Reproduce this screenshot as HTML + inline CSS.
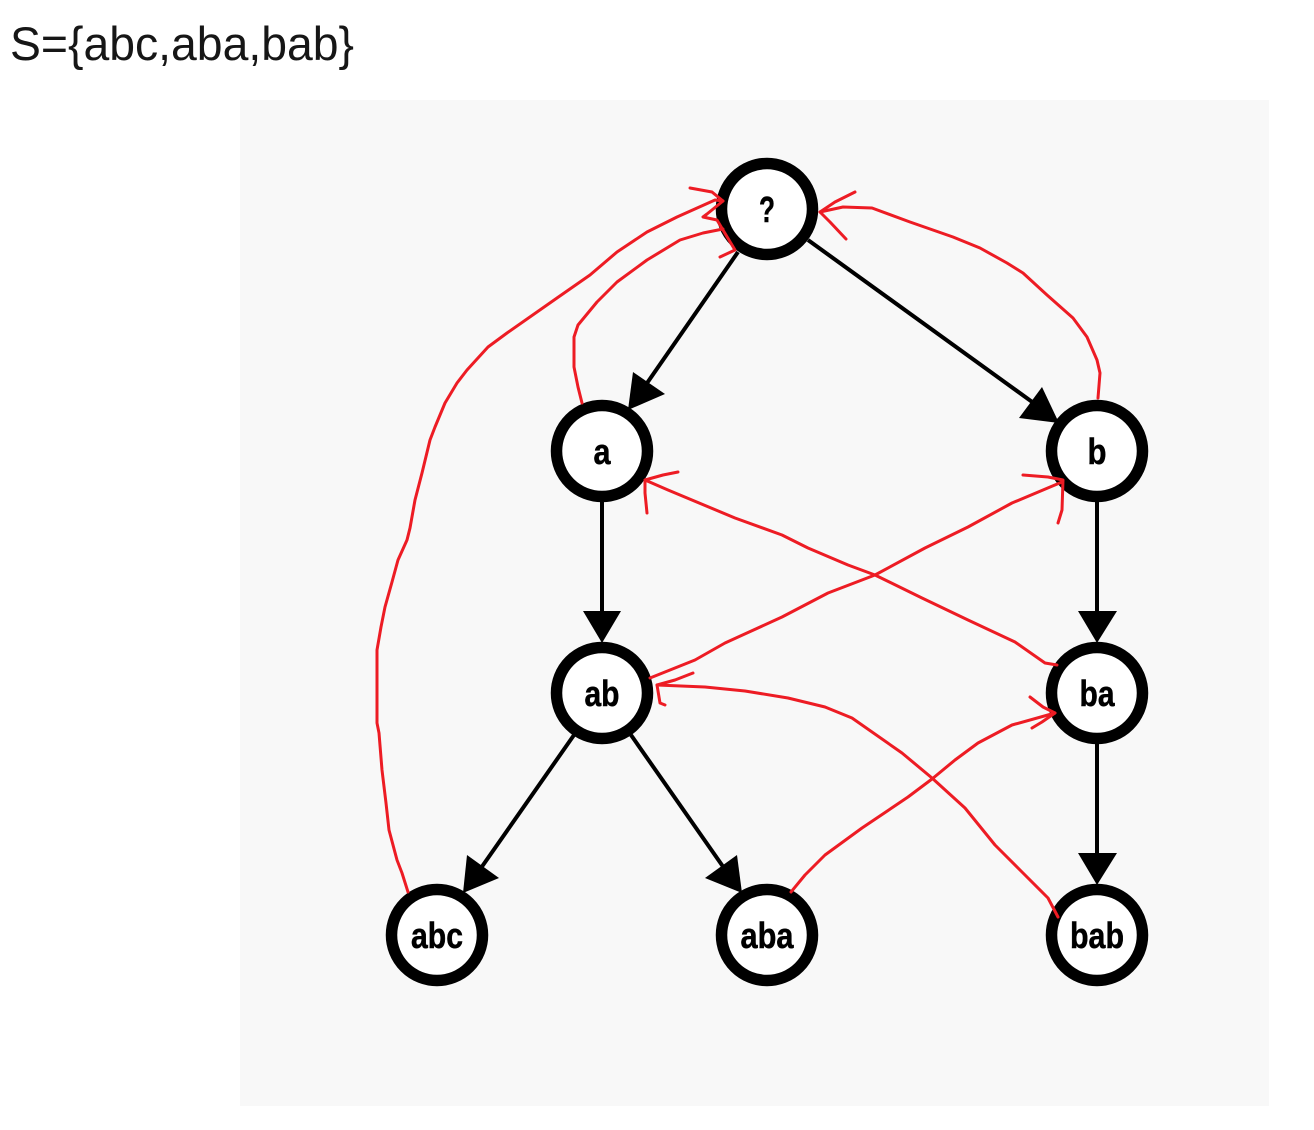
<!DOCTYPE html>
<html>
<head>
<meta charset="utf-8">
<style>
html,body{margin:0;padding:0;background:#fff;width:1314px;height:1130px;overflow:hidden}
svg{display:block}
.n{fill:#fff;stroke:#000;stroke-width:11.5}
.l{font-family:"Liberation Sans",sans-serif;font-weight:bold;font-size:36px;text-anchor:middle;fill:#000;stroke:#000;stroke-width:0.5}
.e{stroke:#000;stroke-width:4;fill:none}
.r{stroke:#ed1c24;stroke-width:3;fill:none;stroke-linejoin:round;stroke-linecap:round}
</style>
</head>
<body>
<svg width="1314" height="1130" viewBox="0 0 1314 1130" xmlns="http://www.w3.org/2000/svg">
<rect x="240" y="100" width="1029" height="1006" fill="#f8f8f8"/>
<text x="10" y="60" font-family="'Liberation Sans',sans-serif" font-size="47" fill="#161616" textLength="344" lengthAdjust="spacingAndGlyphs">S={abc,aba,bab}</text>

<line class="e" x1="738" y1="252" x2="645" y2="386"/>
<polygon points="628,410 633,372 665,394"/>
<line class="e" x1="808" y1="240" x2="1035" y2="404"/>
<polygon points="1059,423 1019,418 1042,387"/>
<line class="e" x1="602" y1="498" x2="602" y2="620"/>
<polygon points="602,643 583,611 621,611"/>
<line class="e" x1="1097" y1="498" x2="1097" y2="620"/>
<polygon points="1097,643 1078,611 1117,611"/>
<line class="e" x1="574" y1="735" x2="481" y2="868"/>
<polygon points="463,893 467,855 499,878"/>
<line class="e" x1="631" y1="735" x2="724" y2="868"/>
<polygon points="742,893 705,878 737,855"/>
<line class="e" x1="1097" y1="740" x2="1097" y2="862"/>
<polygon points="1097,885 1078,853 1117,853"/>

<circle class="n" cx="767" cy="209" r="45.5"/>
<circle class="n" cx="602" cy="451" r="45.5"/>
<circle class="n" cx="1097" cy="451" r="45.5"/>
<circle class="n" cx="602" cy="693" r="45.5"/>
<circle class="n" cx="1097" cy="693" r="45.5"/>
<circle class="n" cx="437" cy="935" r="45.5"/>
<circle class="n" cx="767" cy="935" r="45.5"/>
<circle class="n" cx="1097" cy="935" r="45.5"/>

<text class="l" x="767" y="222" textLength="16" lengthAdjust="spacingAndGlyphs">?</text>
<text class="l" x="602" y="464" textLength="17" lengthAdjust="spacingAndGlyphs">a</text>
<text class="l" x="1097" y="464" textLength="19" lengthAdjust="spacingAndGlyphs">b</text>
<text class="l" x="602" y="706" textLength="35" lengthAdjust="spacingAndGlyphs">ab</text>
<text class="l" x="1097" y="706" textLength="35" lengthAdjust="spacingAndGlyphs">ba</text>
<text class="l" x="437" y="948" textLength="52" lengthAdjust="spacingAndGlyphs">abc</text>
<text class="l" x="767" y="948" textLength="53" lengthAdjust="spacingAndGlyphs">aba</text>
<text class="l" x="1097" y="948" textLength="54" lengthAdjust="spacingAndGlyphs">bab</text>

<polyline class="r" points="408,892 402,873 397,860 389,830 386,803 382,770 379,733 377,723 377,650 381,627 385,607 392,582 398,560 407,540 410,528 415,500 422,473 430,440 435,427 445,403 457,383 467,370 488,347 507,333 557,298 590,275 617,252 647,232 677,217 715,200 723,201"/>
<polyline class="r" points="690,188 712,192 723,201 707,214 703,217 717,220 723,230 735,250 720,257"/>
<polyline class="r" points="582,403 578,387 574,367 574,337 578,325 597,302 617,282 647,260 680,240 703,233 723,229"/>
<polyline class="r" points="1098,398 1100,373 1097,360 1087,337 1073,318 1047,295 1023,273 1007,263 980,248 953,237 910,222 872,208 843,207 820,212"/>
<polyline class="r" points="855,192 835,202 820,212 830,222 846,239"/>
<polyline class="r" points="1057,665 1045,663 1015,642 968,620 922,598 875,575 848,565 808,548 782,535 735,518 668,490 645,480"/>
<polyline class="r" points="678,472 663,475 645,480 645,493 647,513"/>
<polyline class="r" points="650,678 695,660 725,643 782,617 828,593 875,575 925,548 968,527 1012,503 1062,482"/>
<polyline class="r" points="1023,475 1048,477 1063,480 1062,510 1058,523"/>
<polyline class="r" points="1058,917 1048,898 1022,872 995,845 965,808 932,778 902,753 852,718 825,707 788,698 745,691 705,687 657,685"/>
<polyline class="r" points="693,673 675,680 657,685 660,703 665,705"/>
<polyline class="r" points="791,892 805,875 825,855 862,828 908,797 932,779 955,760 978,743 1012,725 1055,713"/>
<polyline class="r" points="1030,697 1043,707 1055,713 1042,722 1032,728"/>
</svg>
</body>
</html>
